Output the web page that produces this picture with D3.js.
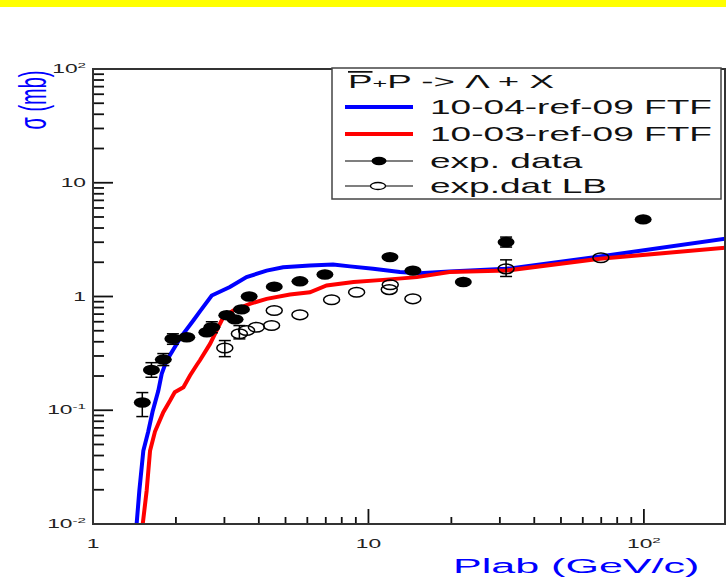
<!DOCTYPE html>
<html>
<head>
<meta charset="utf-8">
<script src="https://cdn.jsdelivr.net/npm/d3@7"></script>
<style>
body { margin: 0; background: #fff; }
svg { display: block; font-family: "Liberation Sans", Arial, sans-serif; }
</style>
</head>
<body>
<svg width="726" height="577"></svg>
<script>
// exp. data (filled markers)
var expP     = [1.51, 1.63, 1.80, 1.95, 2.19, 2.59, 2.70, 3.06, 3.28, 3.46, 3.69, 4.55, 5.64, 6.95, 11.97, 14.5, 22.1, 31.6, 99.4];
var expSigma = [0.117, 0.226, 0.279, 0.425, 0.438, 0.485, 0.537, 0.685, 0.630, 0.770, 1.00, 1.22, 1.36, 1.56, 2.22, 1.69, 1.34, 3.01, 4.76];
var expLo    = [0.088, 0.195, 0.247, 0.38, null, null, 0.48, null, null, null, null, null, null, null, null, null, null, 2.72, null];
var expHi    = [0.143, 0.262, 0.315, 0.47, null, null, 0.60, null, null, null, null, null, null, null, null, null, null, 3.33, null];

// exp.dat LB (open markers)
var lbP     = [3.01, 3.40, 3.61, 3.92, 4.45, 4.55, 5.64, 7.35, 9.06, 11.9, 12.0, 14.5, 31.6, 69.8];
var lbSigma = [0.353, 0.470, 0.502, 0.537, 0.556, 0.753, 0.690, 0.935, 1.09, 1.15, 1.27, 0.954, 1.75, 2.19];
var lbLo    = [0.296, 0.424, null, null, null, null, null, null, null, null, null, null, 1.50, null];
var lbHi    = [0.41, 0.555, null, null, null, null, null, null, null, null, null, null, 2.10, null];

// 10-04-ref-09 FTF (blue)
var ftf0410P = [1.435, 1.473, 1.523, 1.587, 1.645, 1.727, 1.776, 1.85, 1.98, 2.081, 2.313, 2.445, 2.698, 3.14, 3.61, 4.27, 4.90, 6.13, 7.44, 8.57, 10.4, 13.0, 15.3, 19.7, 31.7, 69.2, 198];
var ftf0410S = [0.009, 0.0196, 0.044, 0.065, 0.097, 0.149, 0.209, 0.273, 0.358, 0.438, 0.615, 0.74, 1.02, 1.21, 1.48, 1.69, 1.81, 1.87, 1.91, 1.84, 1.75, 1.64, 1.60, 1.66, 1.75, 2.25, 3.22];

// 10-03-ref-09 FTF (red)
var ftf0310P = [1.508, 1.566, 1.611, 1.679, 1.800, 1.903, 1.98, 2.13, 2.25, 2.38, 2.445, 2.66, 2.85, 2.97, 3.23, 3.71, 4.27, 5.19, 6.13, 7.05, 8.83, 11.3, 15.0, 19.7, 31.7, 69.2, 198];
var ftf0310S = [0.009, 0.0196, 0.044, 0.065, 0.096, 0.121, 0.144, 0.159, 0.202, 0.250, 0.275, 0.383, 0.537, 0.657, 0.753, 0.862, 0.954, 1.04, 1.09, 1.25, 1.34, 1.40, 1.48, 1.64, 1.69, 2.15, 2.68];

// tick labels
var xMajor = [1, 10, 100];
var xLabels = [["1", ""], ["10", ""], ["10", "2"]];
var yMajor = [0.01, 0.1, 1, 10, 100];
var yLabels = [["10", "-2"], ["10", "-1"], ["1", ""], ["10", ""], ["10", "2"]];

var svg = d3.select("svg"),
    plotL = 93, plotR = 725, plotT = 69, plotB = 524,
    sx = 1.9;

var x = d3.scaleLog().domain([1, 197]).range([plotL, plotR]);
var y = d3.scaleLog().domain([0.01, 100]).range([plotB, plotT]);

svg.append("rect").attr("x", 0).attr("y", 0).attr("width", 726).attr("height", 7).attr("fill", "#ffff00");

svg.append("clipPath").attr("id", "clip")
    .append("rect").attr("x", plotL).attr("y", plotT).attr("width", plotR - plotL).attr("height", plotB - plotT);

// stretched text, the original picture is squeezed into a wide frame
function stext(g, px, py, size, anchor, fill) {
    return g.append("text")
        .attr("transform", "translate(" + px + "," + py + ") scale(" + sx + ",1)")
        .attr("text-anchor", anchor)
        .attr("font-size", size)
        .attr("fill", fill);
}
function powLabel(g, px, py, lab, anchor) {
    var t = stext(g, px, py, 12, anchor, "#222");
    t.append("tspan").text(lab[0]);
    if (lab[1]) t.append("tspan").attr("dy", -5).attr("font-size", 8).text(lab[1]);
}

// curves
var line = d3.line().x(function (d) { return x(d[0]); }).y(function (d) { return y(d[1]); });
var curves = [
    { p: ftf0410P, s: ftf0410S, color: "#0000ff" },
    { p: ftf0310P, s: ftf0310S, color: "#ff0000" }
];
curves.forEach(function (c) {
    svg.append("path")
        .attr("clip-path", "url(#clip)")
        .attr("d", line(d3.zip(c.p, c.s)))
        .attr("fill", "none")
        .attr("stroke", c.color)
        .attr("stroke-width", 4);
});

// error bars
function errBars(P, lo, hi) {
    P.forEach(function (p, i) {
        if (lo[i] == null) return;
        var g = svg.append("g").attr("stroke", "#000").attr("stroke-width", 1.5);
        g.append("line").attr("x1", x(p)).attr("x2", x(p)).attr("y1", y(lo[i])).attr("y2", y(hi[i]));
        g.append("line").attr("x1", x(p) - 6).attr("x2", x(p) + 6).attr("y1", y(lo[i])).attr("y2", y(lo[i]));
        g.append("line").attr("x1", x(p) - 6).attr("x2", x(p) + 6).attr("y1", y(hi[i])).attr("y2", y(hi[i]));
    });
}
errBars(expP, expLo, expHi);
errBars(lbP, lbLo, lbHi);

svg.append("g").selectAll("ellipse").data(d3.zip(lbP, lbSigma)).enter().append("ellipse")
    .attr("cx", function (d) { return x(d[0]); })
    .attr("cy", function (d) { return y(d[1]); })
    .attr("rx", 8).attr("ry", 4.8)
    .attr("fill", "none").attr("stroke", "#000").attr("stroke-width", 1.5);

svg.append("g").selectAll("ellipse").data(d3.zip(expP, expSigma)).enter().append("ellipse")
    .attr("cx", function (d) { return x(d[0]); })
    .attr("cy", function (d) { return y(d[1]); })
    .attr("rx", 8.5).attr("ry", 5.2)
    .attr("fill", "#000");

// ticks, pointing inward
var minorX = x.ticks().filter(function (v) { return xMajor.indexOf(Math.round(v)) < 0; });
var minorY = y.ticks().filter(function (v) {
    return !yMajor.some(function (m) { return Math.abs(v / m - 1) < 1e-6; });
});

var tk = svg.append("g");
function xTicks(vals, len) {
    vals.forEach(function (d) {
        tk.append("line")
            .attr("x1", x(d)).attr("x2", x(d))
            .attr("y1", plotB).attr("y2", plotB - len)
            .attr("stroke", "#111").attr("stroke-width", 1.8);
    });
}
function yTicks(vals, len) {
    vals.forEach(function (d) {
        tk.append("line")
            .attr("y1", y(d)).attr("y2", y(d))
            .attr("x1", plotL).attr("x2", plotL + len)
            .attr("stroke", "#111").attr("stroke-width", 1.8);
    });
}
xTicks(minorX, 7);
xTicks(xMajor, 15);
yTicks(minorY, 11);
yTicks(yMajor, 20);

svg.append("rect")
    .attr("x", plotL).attr("y", plotT)
    .attr("width", plotR - plotL).attr("height", plotB - plotT)
    .attr("fill", "none").attr("stroke", "#333").attr("stroke-width", 2);

xMajor.forEach(function (v, i) { powLabel(svg, x(v), 548, xLabels[i], "middle"); });
yMajor.forEach(function (v, i) { powLabel(svg, 86, y(v) + 4, yLabels[i], "end"); });

// axis titles
stext(svg, 453, 573, 21, "start", "#0000ff").attr("transform", "translate(453,573) scale(2.05,1)").text("Plab (GeV/c)");
svg.append("text")
    .attr("transform", "translate(46,100) scale(1.9,1) rotate(-90)")
    .attr("text-anchor", "middle")
    .attr("font-size", 20)
    .attr("fill", "#0000ff")
    .text("σ (mb)");

// legend
var lg = svg.append("g");
lg.append("rect").attr("x", 332).attr("y", 68).attr("width", 389).attr("height", 131)
    .attr("fill", "#fff").attr("stroke", "#444").attr("stroke-width", 1.5);

var title = lg.append("text")
    .attr("transform", "translate(348,88) scale(2.1,1)")
    .attr("font-size", 17.5).attr("fill", "#111");
title.append("tspan").style("text-decoration", "overline").text("P");
title.append("tspan").attr("font-size", 12).text("+");
title.append("tspan").text("P -> Λ + X");

var legendRows = [
    { label: "10-04-ref-09 FTF", y: 107, color: "#0000ff", width: 4, marker: null },
    { label: "10-03-ref-09 FTF", y: 134, color: "#ff0000", width: 4, marker: null },
    { label: "exp. data", y: 161, color: "#000", width: 1.2, marker: "filled" },
    { label: "exp.dat LB", y: 186, color: "#000", width: 1.2, marker: "open" }
];
legendRows.forEach(function (r) {
    lg.append("line").attr("x1", 345).attr("x2", 413).attr("y1", r.y).attr("y2", r.y)
        .attr("stroke", r.color).attr("stroke-width", r.width);
    if (r.marker == "filled") {
        lg.append("ellipse").attr("cx", 379).attr("cy", r.y).attr("rx", 7.5).attr("ry", 4.2).attr("fill", "#000");
    } else if (r.marker == "open") {
        lg.append("ellipse").attr("cx", 378).attr("cy", r.y).attr("rx", 7.5).attr("ry", 3.5)
            .attr("fill", "#fff").attr("stroke", "#000").attr("stroke-width", 1.3);
    }
    stext(lg, 430, r.y + 7, 19.5, "start", "#111").text(r.label);
});
</script>
</body>
</html>
